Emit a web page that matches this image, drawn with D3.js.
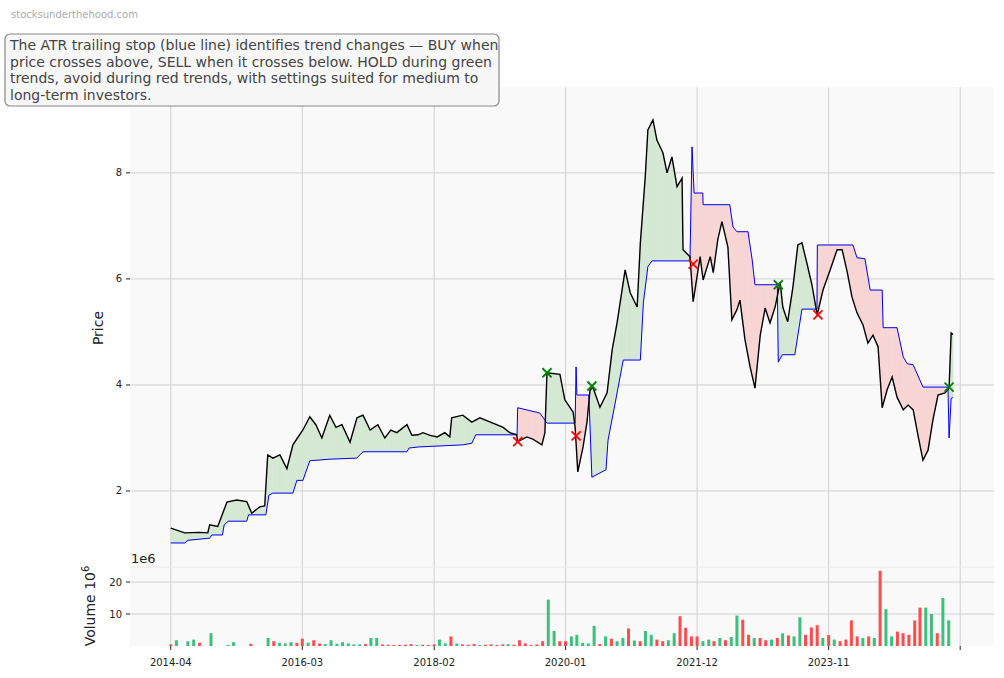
<!DOCTYPE html>
<html><head><meta charset="utf-8">
<script src="https://cdn.jsdelivr.net/npm/d3@7"></script>
<style>body{margin:0;background:#fff;font-family:"DejaVu Sans",sans-serif}</style>
</head><body><svg id="c" width="1004" height="678"></svg>
<script>
const priceDates=["2014-04-01","2014-06-14","2014-09-03","2014-10-15","2014-10-25","2014-12-07","2015-01-25","2015-03-17","2015-05-10","2015-06-06","2015-07-18","2015-08-14","2015-08-30","2015-09-26","2015-11-03","2015-12-10","2016-01-11","2016-03-04","2016-04-10","2016-05-12","2016-06-13","2016-07-25","2016-08-27","2016-09-28","2016-11-10","2016-12-17","2017-01-18","2017-02-25","2017-04-07","2017-05-14","2017-06-15","2017-07-17","2017-09-09","2017-10-05","2017-11-07","2017-12-03","2018-01-10","2018-02-17","2018-03-29","2018-04-25","2018-05-05","2018-07-03","2018-08-20","2018-10-02","2018-12-10","2019-02-03","2019-03-10","2019-04-16","2019-04-21","2019-06-09","2019-07-10","2019-08-28","2019-09-13","2019-09-24","2019-12-02","2019-12-28","2020-02-10","2020-02-21","2020-03-06","2020-04-03","2020-04-24","2020-05-10","2020-05-25","2020-07-02","2020-08-09","2020-09-05","2020-10-01","2020-10-28","2020-11-13","2020-12-10","2021-01-16","2021-02-02","2021-02-28","2021-03-14","2021-04-10","2021-05-01","2021-06-02","2021-06-24","2021-07-20","2021-08-16","2021-09-12","2021-09-17","2021-10-24","2021-11-10","2021-12-17","2022-01-02","2022-02-09","2022-02-25","2022-03-21","2022-04-12","2022-05-14","2022-06-04","2022-07-01","2022-07-17","2022-08-13","2022-09-09","2022-10-05","2022-11-02","2022-11-28","2022-12-24","2023-01-20","2023-02-16","2023-03-02","2023-03-28","2023-04-25","2023-05-21","2023-06-12","2023-07-08","2023-08-04","2023-09-01","2023-10-02","2023-11-09","2023-12-16","2024-01-12","2024-02-08","2024-03-04","2024-03-31","2024-05-02","2024-05-28","2024-06-24","2024-07-21","2024-08-12","2024-09-08","2024-10-04","2024-10-30","2024-12-02","2024-12-28","2025-01-24","2025-02-20","2025-03-17","2025-04-13","2025-05-09","2025-06-05","2025-07-12","2025-08-03","2025-08-14","2025-08-24"];
const priceValues=[1.30,1.21,1.22,1.21,1.36,1.33,1.79,1.83,1.80,1.58,1.70,1.72,2.68,2.62,2.68,2.42,2.87,3.15,3.40,3.25,3.00,3.43,3.20,3.25,2.92,3.38,3.43,3.15,3.25,3.00,3.15,3.10,3.25,3.05,3.06,3.10,3.05,3.02,3.10,3.02,3.38,3.43,3.30,3.38,3.28,3.20,3.10,3.06,2.93,3.02,2.98,2.87,3.10,4.23,4.20,3.72,3.49,3.20,2.36,2.83,3.30,3.90,3.96,3.58,3.85,4.66,5.17,5.80,6.17,5.74,5.47,6.68,7.92,8.81,9.00,8.62,8.38,8.00,8.30,7.74,7.90,6.55,6.42,5.57,6.42,5.98,6.42,6.12,6.74,7.08,6.60,5.23,5.42,5.60,4.85,4.34,3.94,4.94,5.45,5.17,5.47,5.94,5.47,5.19,5.85,6.64,6.68,6.30,5.89,5.32,5.79,6.17,6.55,6.55,6.13,5.66,5.36,5.13,4.79,4.94,4.72,3.57,3.92,4.15,3.77,3.53,3.62,3.53,3.02,2.58,2.77,3.34,3.81,3.85,3.94,4.98,4.95];
const stopDates=["2014-04-01","2014-06-14","2014-07-01","2014-10-25","2014-11-05","2015-01-01","2015-01-10","2015-02-01","2015-05-10","2015-05-20","2015-08-20","2015-09-05","2015-09-26","2016-01-11","2016-02-01","2016-03-04","2016-04-10","2016-07-25","2016-12-15","2017-01-18","2017-09-09","2017-09-20","2017-11-07","2018-07-03","2018-08-20","2018-09-10","2019-04-18","2019-04-21","2019-08-17","2019-09-24","2020-02-21","2020-02-26","2020-03-01","2020-05-04","2020-05-20","2020-08-03","2020-08-14","2020-09-21","2020-11-03","2021-02-02","2021-02-18","2021-03-14","2021-04-05","2021-10-24","2021-11-04","2021-11-15","2021-12-31","2022-01-02","2022-05-24","2022-06-10","2022-07-01","2022-08-29","2022-09-20","2022-10-05","2023-02-01","2023-02-06","2023-02-27","2023-05-05","2023-06-12","2023-08-31","2023-09-02","2024-03-09","2024-03-31","2024-05-12","2024-06-09","2024-08-12","2024-08-17","2024-10-30","2024-12-02","2024-12-23","2025-01-24","2025-03-17","2025-07-28","2025-08-03","2025-08-14","2025-08-24"];
const stopValues=[1.02,1.02,1.07,1.11,1.17,1.17,1.36,1.43,1.43,1.55,1.55,1.92,1.96,1.96,2.20,2.20,2.57,2.60,2.62,2.74,2.74,2.81,2.83,2.87,2.90,3.06,3.06,3.57,3.47,3.28,3.28,4.34,3.81,3.81,2.26,2.40,2.96,3.66,4.47,4.47,5.55,6.23,6.34,6.34,8.49,7.62,7.62,7.40,7.40,6.98,6.89,6.89,6.36,5.89,5.89,4.43,4.57,4.57,5.43,5.43,6.64,6.64,6.40,6.38,5.79,5.79,5.08,5.08,4.53,4.40,4.38,3.96,3.96,3.00,3.75,3.76];
const signalDates=["2019-04-21","2019-09-24","2020-02-26","2020-05-20","2021-11-10","2023-02-06","2023-09-05","2025-08-03"];
const signalValues=[2.93,4.23,3.04,3.98,6.28,5.89,5.32,3.96];
const signalTypes=["SELL","BUY","SELL","BUY","SELL","BUY","SELL","BUY"];
const volStart="2014-04-01";
const volumes=[0.5,1.8,0,1.5,2,1,0,4,0,0,0.3,1.2,0,0,0.7,0,0,2.5,1.5,1,0.8,1.2,1,2.3,1,1.8,0.8,0.6,1.8,0.7,1.2,0.8,0.5,0.5,0.6,2.5,2.5,0.5,0.4,0.3,0.3,0.4,0.6,0.3,0.4,0.3,0.5,2,0.8,3,0.8,0.5,0.4,0.6,0.3,0.4,0.5,0.3,0.5,0.6,0.4,1.8,0.8,0.3,0.5,1.5,14.5,4.7,1.5,1.5,3,3.5,1,0.8,6.3,0.6,3,2.3,1.5,2.5,5.5,1.7,1.5,4.7,3.5,2,1.5,1.8,4,9.3,5.7,3,3,1.5,2,1.5,2.5,1.8,2.8,9.5,8.2,3.5,2.5,2.5,1.8,2,2.5,4,3.3,3,9,3.5,5.8,6.5,2.5,3.4,2,1.5,2,8,3,2.5,3,2.5,23.5,11.5,3,4.5,4,3.5,8,12,12,10,4,15,8];
const volUp=[
 0,1,0,1,1,0,0,1,0,0,
 1,1,0,0,0,0,0,1,0,1,
 1,1,0,0,1,0,0,1,1,1,
 1,1,1,1,0,1,1,0,0,0,
 0,0,0,1,0,0,0,1,1,0,
 1,0,0,0,1,0,0,0,0,1,
 0,0,0,0,0,0,1,1,0,0,
 1,1,1,1,1,0,1,0,1,1,
 0,1,0,1,1,0,0,1,1,0,
 0,0,0,1,1,0,1,0,1,1,
 0,0,1,0,0,1,0,1,0,1,
 1,0,0,0,1,0,1,0,0,0,
 0,1,0,1,0,1,1,0,0,0,
 0,0,1,1,0,1,1];
const xTickDates=["2014-04-01","2016-03-01","2018-02-01","2020-01-01","2021-12-01","2023-11-01","2025-10-01"];
const xTickLabels=["2014-04","2016-03","2018-02","2020-01","2021-12","2023-11",""];
const priceTicks=[2,4,6,8];
const volTicks=[10,20];

const P=d3.timeParse("%Y-%m-%d");
const svg=d3.select("#c");
const L=130,R=994,PT=87,PB=566,VT=567,VB=646;
const x=d3.scaleTime().domain([P("2013-08-27"),P("2026-03-30")]).range([L,R]);
const y=d3.scaleLinear().domain([0.585,9.62]).range([PB,PT]);
const yv=d3.scaleLinear().domain([0,24.7]).range([VB,VT]);

svg.append("rect").attr("x",L).attr("y",PT).attr("width",R-L).attr("height",PB-PT).attr("fill","#f9f9f9");
svg.append("rect").attr("x",L).attr("y",VT).attr("width",R-L).attr("height",VB-VT).attr("fill","#f9f9f9");
const grid=svg.append("g").attr("stroke","#d0d0d0").attr("stroke-width",1);
xTickDates.forEach(d=>{const xx=x(P(d));grid.append("line").attr("x1",xx).attr("x2",xx).attr("y1",PT).attr("y2",VB);});
priceTicks.forEach(v=>grid.append("line").attr("x1",L).attr("x2",R).attr("y1",y(v)).attr("y2",y(v)));
volTicks.forEach(v=>grid.append("line").attr("x1",L).attr("x2",R).attr("y1",yv(v)).attr("y2",yv(v)));
grid.append("line").attr("x1",L).attr("x2",R).attr("y1",VT).attr("y2",VT).attr("stroke","#eaeaea");

const price=priceDates.map((d,i)=>({t:P(d),v:priceValues[i]}));
const stop=stopDates.map((d,i)=>({t:P(d),v:stopValues[i]}));
function interp(arr,t){const ts=+t;let i=d3.bisector(d=>+d.t).right(arr,ts);if(i<=0)return arr[0].v;if(i>=arr.length)return arr[arr.length-1].v;const a=arr[i-1],b=arr[i];const f=(ts-a.t)/(b.t-a.t);return a.v+(b.v-a.v)*f;}
const allT=Array.from(new Set(price.map(d=>+d.t).concat(stop.map(d=>+d.t)))).sort((a,b)=>a-b);
const merged=allT.map(t=>({t:new Date(t),p:interp(price,t),s:interp(stop,t)}));
const segs=[];
for(let i=0;i<merged.length-1;i++){
  const a=merged[i],b=merged[i+1];const da=a.p-a.s,db=b.p-b.s;
  if(da*db<0){const f=da/(da-db);const t=new Date(+a.t+(b.t-a.t)*f);const m={t,p:a.p+(b.p-a.p)*f};m.s=m.p;
    segs.push([a,m]);segs.push([m,b]);}
  else segs.push([a,b]);
}
const fillG=svg.append("g");
segs.forEach(([a,b])=>{const up=(a.p+b.p)-(a.s+b.s)>=0;
  fillG.append("path").attr("d",d3.area().x(d=>x(d.t)).y0(d=>y(d.s)).y1(d=>y(d.p))([a,b]))
   .attr("fill",up?"#d5e8d4":"#f8d5d5").attr("stroke",up?"#d5e8d4":"#f8d5d5").attr("stroke-width",0.6);});
svg.append("path").datum(stop).attr("d",d3.line().x(d=>x(d.t)).y(d=>y(d.v))).attr("fill","none").attr("stroke","#0000ff").attr("stroke-width",1);
svg.append("path").datum(price).attr("d",d3.line().x(d=>x(d.t)).y(d=>y(d.v))).attr("fill","none").attr("stroke","#000").attr("stroke-width",1.4);
signalDates.forEach((d,i)=>{const cx=x(P(d)),cy=y(signalValues[i]),r=4.5;
  const c=signalTypes[i]==="BUY"?"#008000":"#ff0000";
  svg.append("path").attr("d",`M${cx-r},${cy-r}L${cx+r},${cy+r}M${cx-r},${cy+r}L${cx+r},${cy-r}`).attr("stroke",c).attr("stroke-width",1.8);});

const v0=P(volStart);
volumes.forEach((v,i)=>{if(!v)return;const t=d3.timeMonth.offset(v0,i);const xx=x(t);
  svg.append("rect").attr("x",xx-1.5).attr("width",3).attr("y",yv(v)).attr("height",VB-yv(v)).attr("fill",volUp[i]?"#3dbf7d":"#ff4d4d");});

const ax=svg.append("g").attr("font-size",10).attr("fill","#222");
priceTicks.forEach(v=>{ax.append("line").attr("x1",L-4).attr("x2",L).attr("y1",y(v)).attr("y2",y(v)).attr("stroke","#222");
  ax.append("text").attr("x",L-8).attr("y",y(v)+3.5).attr("text-anchor","end").text(v);});
volTicks.forEach(v=>{ax.append("line").attr("x1",L-4).attr("x2",L).attr("y1",yv(v)).attr("y2",yv(v)).attr("stroke","#222");
  ax.append("text").attr("x",L-8).attr("y",yv(v)+3.5).attr("text-anchor","end").text(v);});
xTickDates.forEach((d,i)=>{const xx=x(P(d));ax.append("line").attr("x1",xx).attr("x2",xx).attr("y1",VB).attr("y2",VB+4).attr("stroke","#222");
  ax.append("text").attr("x",xx).attr("y",666).attr("text-anchor","middle").text(xTickLabels[i]);});
svg.append("text").attr("transform","translate(103,328) rotate(-90)").attr("text-anchor","middle").attr("font-size",14).attr("fill","#222").text("Price");
const vl=svg.append("text").attr("transform","translate(95,606) rotate(-90)").attr("text-anchor","middle").attr("font-size",14).attr("fill","#222");
vl.append("tspan").text("Volume  10");vl.append("tspan").attr("dy",-6).attr("font-size",10).text("6");
svg.append("text").attr("x",131).attr("y",563).attr("font-size",13).attr("fill","#222").text("1e6");

svg.append("text").attr("x",11).attr("y",18).attr("font-size",10).attr("fill","#aaa").text("stocksunderthehood.com");
svg.append("rect").attr("x",5).attr("y",34).attr("width",494).attr("height",72).attr("rx",5).attr("fill","#f7f7f7").attr("stroke","#888").attr("stroke-width",1.2);
const lines=["The ATR trailing stop (blue line) identifies trend changes — BUY when","price crosses above, SELL when it crosses below. HOLD during green","trends, avoid during red trends, with settings suited for medium to","long-term investors."];
lines.forEach((s,i)=>svg.append("text").attr("x",10).attr("y",50+i*16.5).attr("font-size",14).attr("fill","#444").text(s));
</script></body></html>
